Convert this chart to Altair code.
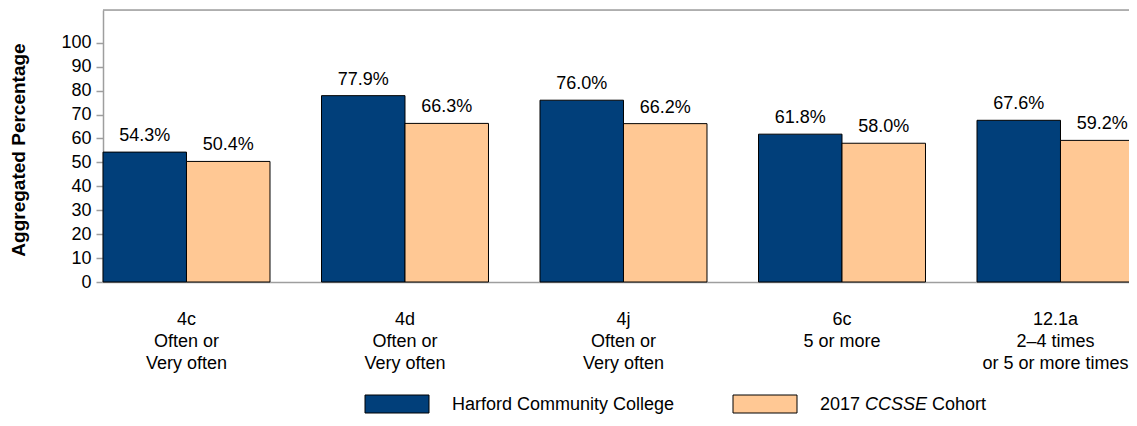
import altair as alt
import pandas as pd

FONT = "Liberation Sans"
GREY = "#9E9E9E"
FS = 18

categories = [
    "4c\nOften or\nVery often",
    "4d\nOften or\nVery often",
    "4j\nOften or\nVery often",
    "6c\n5 or more",
    "12.1a\n2–4 times\nor 5 or more times",
]
series = ["Harford Community College", "2017 CCSSE Cohort"]
harford = [54.3, 77.9, 76.0, 61.8, 67.6]
cohort = [50.4, 66.3, 66.2, 58.0, 59.2]
colors = ["#013F7A", "#FFC894"]
y_ticks = [0, 10, 20, 30, 40, 50, 60, 70, 80, 90, 100]
legend_parts = ["2017 ", "CCSSE", "Cohort"]

# group layout (in units of one category step)
GROUP = 0.7643          # share of a step covered by the pair of bars
PLOT_W = 1026
X_DOMAIN = [0, PLOT_W / 218.5]  # visible part of the category axis (last group runs past the edge)

rows = []
for gi, (c, h, k) in enumerate(zip(categories, harford, cohort)):
    rows.append({"cat": c, "g": gi, "s": 0, "series": series[0], "value": h})
    rows.append({"cat": c, "g": gi, "s": 1, "series": series[1], "value": k})
df = pd.DataFrame(rows)
cats = pd.DataFrame({"cat": categories, "g": list(range(len(categories)))})
last_g = len(categories) - 1

x_scale = alt.Scale(domain=X_DOMAIN, nice=False, zero=False)
x_axis = alt.Axis(
    title=None, labels=False, ticks=False, grid=False, domainColor=GREY, domainWidth=1.5
)
y_scale = alt.Scale(domain=[0, 113.7], nice=False, zero=True)
y_axis = alt.Axis(
    values=y_ticks,
    tickCount=11,
    labelOverlap=False,
    title="Aggregated Percentage",
    titleFont=FONT,
    titleFontSize=19,
    titleFontWeight="bold",
    titleColor="black",
    titleX=-85,
    titleY=139.5,
    titleAlign="center",
    titleBaseline="middle",
    titleAngle=270,
    labelFont=FONT,
    labelFontSize=FS,
    labelColor="black",
    labelPadding=5,
    tickSize=7,
    tickColor=GREY,
    tickWidth=1.5,
    domainColor=GREY,
    domainWidth=1.5,
    grid=False,
)

base = alt.Chart(df).transform_calculate(
    x0=f"datum.g + datum.s * {GROUP / 2}",
    x1=f"datum.g + (datum.s + 1) * {GROUP / 2}",
    xm=f"datum.g + (datum.s + 0.5) * {GROUP / 2}",
    lbl="format(datum.value, '.1f') + '%'",
)
bars = base.mark_bar(stroke="black", strokeWidth=1).encode(
    x=alt.X("x0:Q", scale=x_scale, axis=x_axis),
    x2="x1:Q",
    y=alt.Y("value:Q", scale=y_scale, axis=y_axis),
    y2=alt.datum(0),
    color=alt.Color("series:N", sort=series, scale=alt.Scale(domain=series, range=colors), legend=None),
)
labels = base.mark_text(dy=-11, baseline="alphabetic", fontSize=FS, font=FONT, color="black").encode(
    x=alt.X("xm:Q", scale=x_scale, axis=x_axis),
    y=alt.Y("value:Q", scale=y_scale, axis=y_axis),
    text="lbl:N",
)
cat_base = alt.Chart(cats).transform_calculate(xc=f"datum.g + {GROUP / 2}")
cat_labels = (
    cat_base.transform_filter(f"datum.g < {last_g}")
    .mark_text(baseline="top", align="center", fontSize=FS, font=FONT, color="black", lineBreak="\n", lineHeight=22)
    .encode(x=alt.X("xc:Q", scale=x_scale, axis=x_axis), y=alt.value(301), text="cat:N")
)
cat_label_last = (
    cat_base.transform_filter(f"datum.g == {last_g}")
    .mark_text(baseline="top", align="center", fontSize=FS, font=FONT, color="black", lineBreak="\n", lineHeight=22, dx=-5)
    .encode(x=alt.X("xc:Q", scale=x_scale, axis=x_axis), y=alt.value(301), text="cat:N")
)

top_rule = alt.Chart(pd.DataFrame({"a": [0]})).mark_rule(color=GREY, strokeWidth=1.5).encode(
    x=alt.value(0), x2=alt.value(PLOT_W), y=alt.value(0)
)

one = pd.DataFrame({"s": [series[0]]})
two = pd.DataFrame({"s": [series[1]]})
sw1 = alt.Chart(one).mark_rect(stroke="black", strokeWidth=1, fill=colors[0]).encode(
    x=alt.value(262), x2=alt.value(326), y=alt.value(385), y2=alt.value(403)
)
sw2 = alt.Chart(two).mark_rect(stroke="black", strokeWidth=1, fill=colors[1]).encode(
    x=alt.value(630), x2=alt.value(694), y=alt.value(385), y2=alt.value(403)
)
t1 = alt.Chart(one).mark_text(align="left", baseline="middle", fontSize=FS, font=FONT, color="black").encode(
    x=alt.value(349), y=alt.value(395), text="s:N"
)
parts = pd.DataFrame({"p": legend_parts})
t2a = alt.Chart(parts).transform_filter("datum.p == '2017 '").mark_text(
    align="left", baseline="middle", fontSize=FS, font=FONT, color="black"
).encode(x=alt.value(717), y=alt.value(395), text="p:N")
t2b = alt.Chart(parts).transform_filter("datum.p == 'CCSSE'").mark_text(
    align="left", baseline="middle", fontSize=FS, font=FONT, color="black", fontStyle="italic"
).encode(x=alt.value(762), y=alt.value(395), text="p:N")
t2c = alt.Chart(parts).transform_filter("datum.p == 'Cohort'").mark_text(
    align="left", baseline="middle", fontSize=FS, font=FONT, color="black"
).encode(x=alt.value(829), y=alt.value(395), text="p:N")

chart = (
    alt.layer(bars, labels, cat_labels, cat_label_last, top_rule, sw1, sw2, t1, t2a, t2b, t2c)
    .properties(
        width=PLOT_W,
        height=272,
        autosize=alt.AutoSizeParams(type="none"),
        padding={"left": 95, "top": 2, "right": 0, "bottom": 132},
    )
    .configure_view(stroke=None)
    .configure(background="white")
)

chart.save("out.html", embed_options={"renderer": "svg", "actions": False})
